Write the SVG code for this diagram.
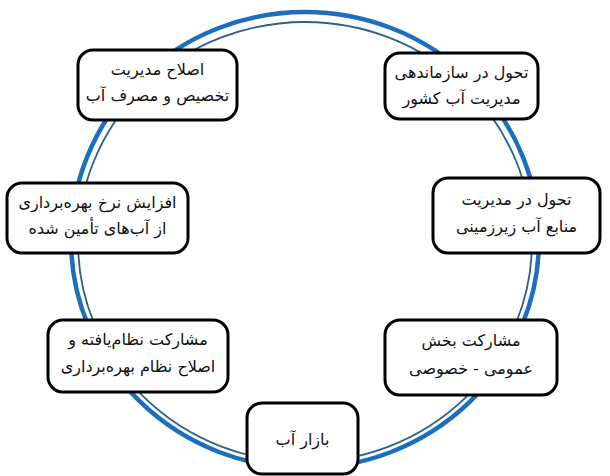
<svg xmlns="http://www.w3.org/2000/svg" width="610" height="476" viewBox="0 0 610 476">
<style>
.box{fill:#fff;stroke:#000;stroke-width:3}
.t{font-family:"DejaVu Sans","Noto Sans",sans-serif;font-size:16px;fill:#111;text-anchor:middle;direction:rtl}
.outer{fill:none;stroke:#1c6fc0;stroke-width:4.5}
.inner{fill:none;stroke:#2b5f8e;stroke-width:1.8}
</style>
<rect width="610" height="476" fill="#fff"/>
<g id="connectors">
<ellipse class="outer" cx="305" cy="240" rx="234" ry="228"/>
<ellipse class="inner" cx="305" cy="242" rx="227" ry="220"/>
</g>
<g id="node-top-left">
<rect class="box" x="78" y="50" width="159" height="70" rx="15"/>
<text class="t" x="157.5" y="75">اصلاح مدیریت</text>
<text class="t" x="157.5" y="101">تخصیص و مصرف آب</text>
</g>
<g id="node-top-right">
<rect class="box" x="385" y="53" width="153" height="66" rx="15"/>
<text class="t" x="461.5" y="78">تحول در سازماندهی</text>
<text class="t" x="461.5" y="104">مدیریت آب کشور</text>
</g>
<g id="node-left">
<rect class="box" x="7" y="183" width="181" height="70" rx="15"/>
<text class="t" x="97.5" y="208">افزایش نرخ بهره‌برداری</text>
<text class="t" x="97.5" y="234">از آب‌های تأمین شده</text>
</g>
<g id="node-right">
<rect class="box" x="433" y="178" width="167" height="75" rx="15"/>
<text class="t" x="516.5" y="205">تحول در مدیریت</text>
<text class="t" x="516.5" y="232">منابع آب زیرزمینی</text>
</g>
<g id="node-bottom-left">
<rect class="box" x="48" y="320" width="180" height="72" rx="15"/>
<text class="t" x="138" y="345">مشارکت نظام‌یافته و</text>
<text class="t" x="138" y="372">اصلاح نظام بهره‌برداری</text>
</g>
<g id="node-bottom-right">
<rect class="box" x="385" y="320" width="172" height="75" rx="15"/>
<text class="t" x="471" y="346">مشارکت بخش</text>
<text class="t" x="471" y="374">عمومی - خصوصی</text>
</g>
<g id="node-bottom">
<rect class="box" x="247" y="403" width="111" height="71" rx="15"/>
<text class="t" x="302.5" y="445">بازار آب</text>
</g>
</svg>
